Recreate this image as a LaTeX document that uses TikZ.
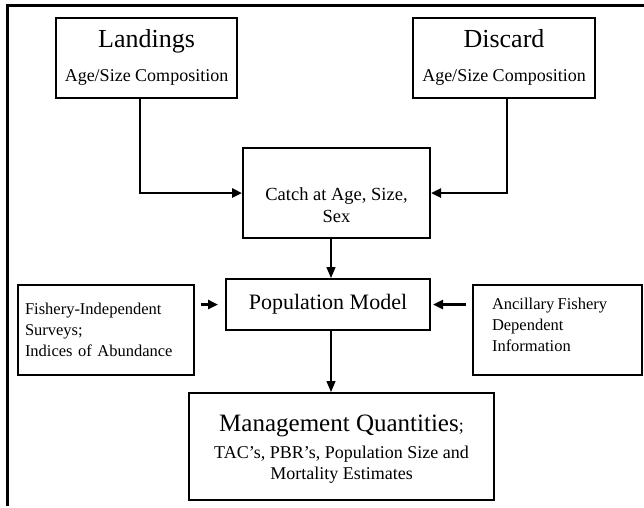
\documentclass[tikz,border=0pt]{standalone}
\usepackage{fontspec}
\setmainfont{Liberation Serif}
\usetikzlibrary{arrows.meta}
\usetikzlibrary{calc}

% lower the printed text without changing the box size
\newcommand{\lowered}[2]{\raisebox{-#1}[\height][\depth]{#2}}

\begin{document}
\begin{tikzpicture}[x=1pt,y=-1pt,
	box/.style={draw, line width=2pt, inner sep=0pt},
	flow/.style={line width=2.4pt, -{Triangle[length=10pt,width=9pt]}},
	thinflow/.style={line width=1.3pt, -{Triangle[length=11pt,width=9pt]}}]
	\useasboundingbox (0,0) rectangle (644,507);
	
	% frame
	\draw[line width=3pt] (644,5) -- (7,5) -- (7,506);
	
	% sources
	\node[box, minimum width=181pt, minimum height=80pt] (land) at (146.5,58)
		{\fontsize{18}{20}\selectfont\begin{tabular}{@{}c@{}}{\fontsize{26}{26}\selectfont Landings}\\[14pt]Age/Size Composition\end{tabular}};
	\node[box, minimum width=182pt, minimum height=80pt] (disc) at (504,58)
		{\fontsize{18}{20}\selectfont\begin{tabular}{@{}c@{}}{\fontsize{26}{26}\selectfont Discard}\\[14pt]Age/Size Composition\end{tabular}};
	\node[box, minimum width=187pt, minimum height=90pt] (catch) at (336.5,193)
		{\lowered{14pt}{\fontsize{18.5}{22}\selectfont\begin{tabular}{@{}c@{}}Catch at Age, Size,\\Sex\end{tabular}}};
	
	% model
	\node[box, minimum width=204pt, minimum height=51pt, font=\fontsize{22}{22}\selectfont] (pop) at (328,304.5)
		{Population Model};
	\node[box, minimum width=176pt, minimum height=90pt, text width=162pt, align=left,
		font=\fontsize{16.5}{21}\selectfont] (fish) at (106,330)
		{Fishery-Independent\\Surveys;\\Indices of Abundance};
	\node[box, minimum width=169pt, minimum height=90pt, text width=131pt, align=left] (anc) at (557.5,330)
		{\lowered{-4pt}{\fontsize{16.5}{21}\selectfont\begin{tabular}{@{}l@{}}Ancillary Fishery\\Dependent\\Information\end{tabular}}};
	
	% output
	\node[box, minimum width=305pt, minimum height=107pt] (mgmt) at (341.5,446.5)
		{\lowered{4pt}{\fontsize{18}{21}\selectfont\begin{tabular}{@{}c@{}}{\fontsize{25}{25}\selectfont Management Quantities}{;}\\[6pt]
		TAC's, PBR's, Population Size and\\
		Mortality Estimates\end{tabular}}};
	
	% connectors
	\draw[flow] ([xshift=-6.5pt]land.south) |- (catch.west);
	\draw[flow] ([xshift=3pt]disc.south) |- (catch.east);
	\draw[thinflow] ([xshift=-5.5pt]catch.south) -- ([xshift=-5.5pt]catch.south |- pop.north);
	\draw[flow, shorten <=6pt, shorten >=7pt] (fish.east |- pop.west) -- (pop.west);
	\draw[flow, shorten <=6pt, shorten >=2pt] (anc.west |- pop.east) -- (pop.east);
	\draw[thinflow] ([xshift=3pt]pop.south) -- ([xshift=3pt]pop.south |- mgmt.north);
\end{tikzpicture}
\end{document}
